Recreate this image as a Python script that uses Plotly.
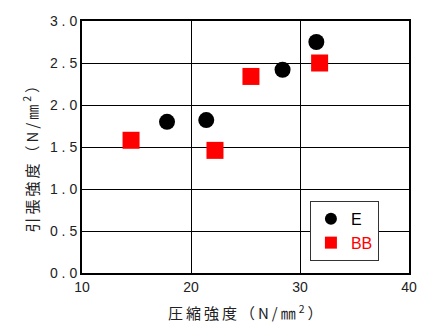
import plotly.graph_objects as go

# Compressive vs tensile strength for two mix types
e_comp = [17.8, 21.4, 28.4, 31.5]
e_tens = [1.80, 1.82, 2.42, 2.75]
bb_comp = [14.5, 22.2, 25.5, 31.8]
bb_tens = [1.58, 1.46, 2.34, 2.50]

y_ticks = [0.0, 0.5, 1.0, 1.5, 2.0, 2.5, 3.0]
y_ticktext = ["0 . 0", "0 . 5", "1 . 0", "1 . 5", "2 . 0", "2 . 5", "3 . 0"]
x_ticks = [10, 20, 30, 40]

FONT = "Liberation Sans, Noto Sans CJK JP, sans-serif"
CJK = "Noto Sans CJK JP, Liberation Sans, sans-serif"
TS = "\u2009"  # thin space for letter-spaced titles


def spaced(chars):
    return TS.join(chars)


x_title = spaced(["圧", "縮", "強", "度", "（", "N", "/", "㎜", "<sup>2</sup>", "）"])
y_title = spaced(["引", "張", "強", "度", "（", "N", "/", "㎜", "<sup>2</sup>", "）"])

fig = go.Figure()
fig.add_trace(go.Scatter(
    x=e_comp, y=e_tens, mode="markers", name="E",
    marker=dict(symbol="circle", size=16, color="black"),
))
fig.add_trace(go.Scatter(
    x=bb_comp, y=bb_tens, mode="markers",
    name="<span style='color:#ff0000'>BB</span>",
    marker=dict(symbol="square", size=17, color="#ff0000"),
))

axis_common = dict(
    ticks="", showgrid=True, gridcolor="black", gridwidth=1, zeroline=False,
    showline=True, linecolor="black", linewidth=2, mirror=True,
    tickfont=dict(size=14), automargin=False,
)

fig.update_layout(
    width=434, height=325,
    margin=dict(l=82, r=25, t=21, b=52),
    plot_bgcolor="white", paper_bgcolor="white",
    font=dict(family=FONT, color="#222222", size=14),
    showlegend=True,
    legend=dict(
        x=0.697, y=0.286, xanchor="left", yanchor="top",
        bgcolor="white", bordercolor="#333333", borderwidth=1,
        font=dict(size=16, color="black", family=FONT),
        itemsizing="constant", tracegroupgap=0,
    ),
    xaxis=dict(range=[10, 40], tickvals=x_ticks, **axis_common),
    yaxis=dict(range=[0, 3.0], tickvals=y_ticks, ticktext=y_ticktext, **axis_common),
    annotations=[
        dict(text=x_title, xref="paper", yref="paper", x=0.4985, y=-0.155,
             xanchor="center", yanchor="middle", showarrow=False,
             font=dict(family=CJK, size=15, color="#222222")),
        dict(text=y_title, xref="paper", yref="paper", x=-0.159, y=0.466,
             xanchor="center", yanchor="middle", showarrow=False, textangle=-90,
             font=dict(family=CJK, size=15, color="#222222")),
    ],
)

fig.write_html("out.html")
